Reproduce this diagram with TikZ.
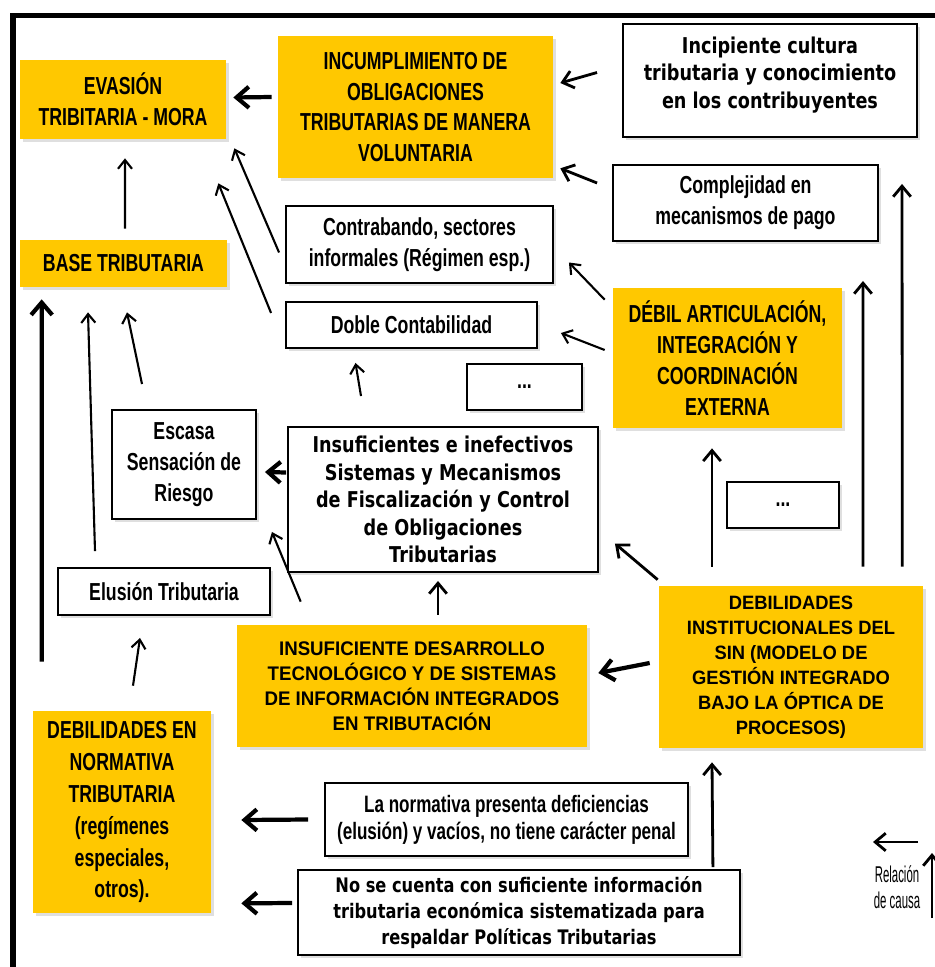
\documentclass[tikz,border=0pt]{standalone}
\usepackage{fontspec}
\setmainfont{Liberation Sans}
\newfontfamily\narrowfont[FakeStretch=0.72]{Liberation Sans}
\newfontfamily\capsfont[FakeStretch=0.95]{Liberation Sans}
\newfontfamily\widefont[FakeStretch=0.81]{DejaVu Sans}
\newfontfamily\legendfont[FakeStretch=0.5]{Liberation Sans}
\usetikzlibrary{arrows.meta, shadows, calc}
\definecolor{boxyellow}{RGB}{255,200,0}

\begin{document}
\begin{tikzpicture}[x=0.02cm, y=-0.02cm]
		\tikzstyle{yellowbox} = [rectangle, fill=boxyellow, align=center, inner sep=1pt, drop shadow={shadow xshift=1.5pt, shadow yshift=-1.5pt, opacity=0.25}]
		
		\tikzstyle{whitebox} = [rectangle, draw=black, line width=1.1pt, fill=white, align=center, inner sep=1pt, drop shadow={shadow xshift=1.5pt, shadow yshift=-1.5pt, opacity=0.25}]
		
		\tikzstyle{narrowtext} = [font=\narrowfont\bfseries\fontsize{14}{17.6}\selectfont]
		\tikzstyle{widetext} = [font=\widefont\bfseries\fontsize{12.4}{15.6}\selectfont]
		
		\tikzstyle{arrow} = [-{Straight Barb[length=5pt,width=8pt]}, line width=1.2pt]
		\tikzstyle{midarrow} = [-{Straight Barb[length=6pt,width=10pt]}, line width=1.6pt]
		\tikzstyle{thickarrow} = [-{Straight Barb[length=7pt,width=12pt]}, line width=2.4pt]
		
		\useasboundingbox (0,0) rectangle (935,967);
		
		% Frame of the figure
		\draw [line width=3.4pt] (13,967) -- (13,15.5) -- (935,15.5);
		
		% Top row
		\node (evasion) [yellowbox, narrowtext, minimum width=4.12cm, minimum height=1.58cm] at (123,99.5) {EVASIÓN\\TRIBITARIA - MORA};
		\node (incumpl) [yellowbox, narrowtext, minimum width=5.5cm, minimum height=2.84cm] at (415.5,107) {INCUMPLIMIENTO DE\\OBLIGACIONES\\TRIBUTARIAS DE MANERA\\VOLUNTARIA};
		\node (incip) [whitebox, widetext, minimum width=5.88cm, minimum height=2.26cm, text depth=9pt] at (770,80.5) {Incipiente cultura\\tributaria y conocimiento\\en los contribuyentes};
		\node (complej) [whitebox, narrowtext, minimum width=5.3cm, minimum height=1.52cm] at (745.5,203) {Complejidad en\\mecanismos de pago};
		
		% Middle nodes
		\node (base) [yellowbox, narrowtext, minimum width=4.14cm, minimum height=0.94cm] at (123.5,263.5) {BASE TRIBUTARIA};
		\node (contra) [whitebox, narrowtext, minimum width=5.34cm, minimum height=1.54cm] at (419.5,244.5) {Contrabando, sectores\\informales (Régimen esp.)};
		\node (doble) [whitebox, narrowtext, minimum width=5.02cm, minimum height=0.92cm] at (411.5,325) {Doble Contabilidad};
		\node (debil) [yellowbox, narrowtext, minimum width=4.58cm, minimum height=2.8cm] at (727.5,358) {DÉBIL ARTICULACIÓN,\\INTEGRACIÓN Y\\COORDINACIÓN\\EXTERNA};
		\node (dotsa) [whitebox, narrowtext, minimum width=2.3cm, minimum height=0.92cm] at (524.5,387) {...};
		\node (escasa) [whitebox, narrowtext, minimum width=2.88cm, minimum height=2.18cm] at (184,464.5) {Escasa\\Sensación de\\Riesgo};
		\node (insuf) [whitebox, widetext, minimum width=6.2cm, minimum height=2.9cm] at (443,499.5) {Insuficientes e inefectivos\\Sistemas y Mecanismos\\de Fiscalización y Control\\de Obligaciones\\Tributarias};
		\node (dotsb) [whitebox, narrowtext, minimum width=2.24cm, minimum height=0.92cm] at (783,505) {...};
		\node (elusion) [whitebox, narrowtext, minimum width=4.24cm, minimum height=0.94cm] at (164,591.5) {Elusión Tributaria};
		
		% Bottom nodes
		\node (tecno) [yellowbox, font=\capsfont\bfseries\fontsize{11.2}{14.2}\selectfont, minimum width=7cm, minimum height=2.44cm] at (412,686) {INSUFICIENTE DESARROLLO\\TECNOLÓGICO Y DE SISTEMAS\\DE INFORMACIÓN INTEGRADOS\\EN TRIBUTACIÓN};
		\node (debinst) [yellowbox, font=\capsfont\bfseries\fontsize{11}{14.2}\selectfont, minimum width=5.28cm, minimum height=3.24cm] at (791,667) {DEBILIDADES\\INSTITUCIONALES DEL\\SIN (MODELO DE\\GESTIÓN INTEGRADO\\BAJO LA ÓPTICA DE\\PROCESOS)};
		\node (debnorm) [yellowbox, font=\narrowfont\bfseries\fontsize{14}{18.2}\selectfont, minimum width=3.56cm, minimum height=4.04cm] at (122,812) {DEBILIDADES EN\\NORMATIVA\\TRIBUTARIA\\(regímenes\\especiales,\\otros).};
		\node (lanorm) [whitebox, font=\narrowfont\bfseries\fontsize{13.5}{15.3}\selectfont, minimum width=7.26cm, minimum height=1.46cm] at (506.5,819.5) {La normativa presenta deficiencias\\(elusión) y vacíos, no tiene carácter penal};
		\node (nose) [whitebox, font=\widefont\bfseries\fontsize{11.4}{14.7}\selectfont, minimum width=8.84cm, minimum height=1.7cm] at (519,912.5) {No se cuenta con suficiente información\\tributaria económica sistematizada para\\respaldar Políticas Tributarias};
		
		% Legend
		\node (legend) [font=\legendfont\fontsize{13}{15}\selectfont, align=center, inner sep=0pt] at (897,887) {Relación\\de causa};
		\coordinate (legA) at (918,842);
		\coordinate (legB) at (873,842);
		\coordinate (legC) at (932,918);
		\coordinate (legD) at (932,853);
		
		% Arrows
		\draw [thickarrow] ($(incumpl.west)+(-6,-10)$) -- ($(evasion.east)+(7,-2)$);
		\draw [midarrow] ($(incip.west)+(-25,-8)$) -- ($(incumpl.east)+(7,-24)$);
		\draw [midarrow] ($(complej.west)+(-15,-20)$) -- ($(incumpl.south east)+(7,-10)$);
		\draw [arrow] ($(contra.west)+(-6,8)$) -- ($(evasion.south east)+(8,9)$);
		\draw [arrow] ($(doble.west)+(-14,-12)$) -- ($(evasion.south east)+(-8,44)$);
		\draw [arrow] ($(base.north)+(1.5,-11)$) -- ($(evasion.south)+(2,19)$);
		\draw [arrow] ($(debil.north west)+(-8,12)$) -- ($(contra.east)+(15,18)$);
		\draw [arrow] ($(debil.west)+(-8,-8)$) -- ($(doble.east)+(23,8)$);
		\draw [arrow] ($(insuf.north)+(-82,-30)$) -- ($(doble.south)+(-56,14)$);
		\draw [thickarrow] ($(insuf.west)+(-1,-27)$) -- ($(escasa.east)+(8,7.5)$);
		\draw [arrow] ($(escasa.north)+(-42,-25)$) -- ($(base.south)+(3.5,25)$);
		\draw [arrow] ($(elusion.north)+(-69,-16)$) -- ($(base.south)+(-35.5,25)$);
		\draw [thickarrow] ($(debnorm.north west)+(9,-49)$) -- ($(base.south west)+(22,12)$);
		\draw [arrow] ($(debnorm.north)+(11,-25)$) -- ($(elusion.south)+(-24,22)$);
		\draw [arrow] ($(tecno.north west)+(64,-23)$) -- ($(escasa.south east)+(15,12)$);
		\draw [midarrow] ($(tecno.north)+(26,-10)$) -- ($(insuf.south)+(-5,8)$);
		\draw [thickarrow] ($(debinst.west)+(-9,-4)$) -- ($(tecno.east)+(11,-13)$);
		\draw [midarrow] ($(debinst.north west)+(-1,-6)$) -- ($(insuf.east)+(16,44)$);
		\draw [midarrow] ($(debinst.north)+(-79,-19)$) -- ($(debil.south)+(-15.5,20)$);
		\draw [midarrow] ($(debinst.north)+(72,-19)$) -- ($(complej.south)+(117.5,39)$);
		\draw [midarrow] ($(debinst.north east)+(-21,-19)$) -- ($(incip.south)+(132,46)$);
		\draw [thickarrow] ($(lanorm.west)+(-16,0)$) -- ($(debnorm.east)+(30,8)$);
		\draw [thickarrow] ($(nose.west)+(-5,-9.5)$) -- ($(debnorm.south east)+(30,-10)$);
		\draw [midarrow] ($(nose.north east)+(-28,-2)$) -- ($(debinst.south)+(-79,14)$);
		\draw [midarrow] (legA) -- (legB);
		\draw [midarrow] (legC) -- (legD);
	\end{tikzpicture}
\end{document}
